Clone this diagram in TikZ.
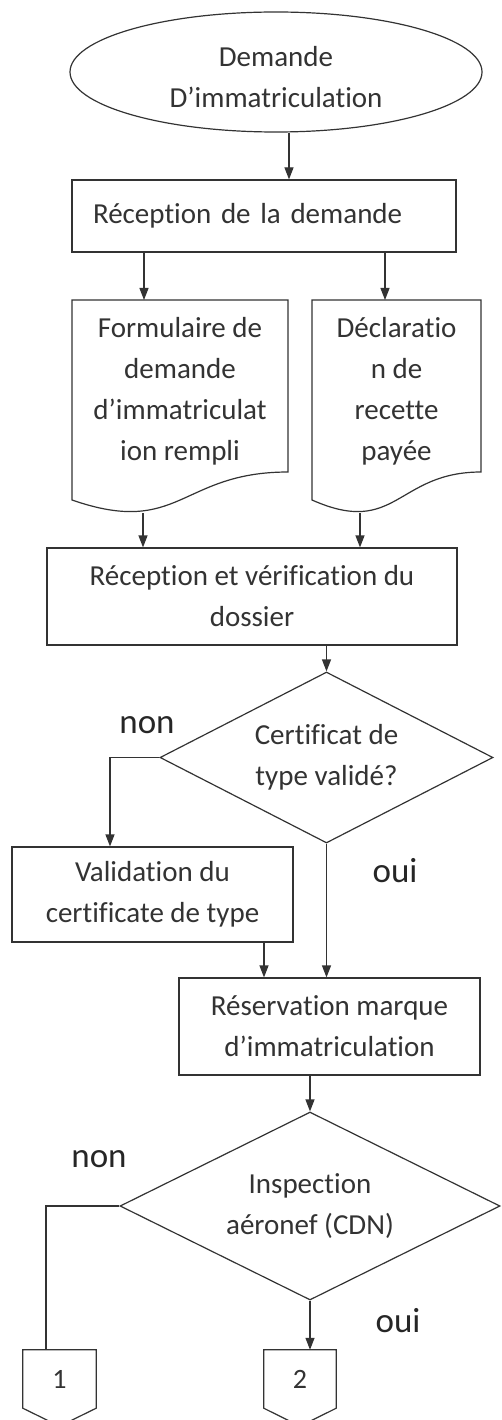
\documentclass[tikz,border=0pt]{standalone}
\usepackage{fontspec}
\setmainfont{Carlito}[Ligatures=NoCommon]
\usetikzlibrary{shapes.geometric,arrows.meta,calc}
\begin{document}
\begin{tikzpicture}[x=1pt,y=-1pt,
  line/.style={draw=black!80,line width=1.2pt},
  arr/.style={line,-{Triangle[length=12pt,width=9pt]}},
  txt/.style={font=\fontsize{29}{41}\selectfont,text=black!80,align=center},
  boxnode/.style={line,txt,rectangle,inner sep=0pt},
  lbl/.style={font=\fontsize{35}{40}\selectfont,text=black!85,anchor=base},
  dec/.style={line,diamond,txt,inner sep=0pt},
  num/.style={font=\fontsize{28}{32}\selectfont,text=black!80,inner sep=0pt}
]
\clip (0,0) rectangle (501,1420);
\fill[white] (0,0) rectangle (501,1420);

% start
\node[line,ellipse,minimum width=412pt,minimum height=120pt,inner sep=0pt,
  label={[txt,yshift=-5pt]center:Demande\\D’immatriculation}] (start) at (276,72) {};

% reception
\node[boxnode,minimum width=384pt,minimum height=72pt,text width=342pt,align=left] (b1) at (264,216) {Réception de la demande};

% documents
\draw[line] (72,300) -- (288,300) -- (288,472) .. controls (180,472) and (180,537.5) .. (72,500) -- cycle;
\draw[line] (312,300) -- (481,300) -- (481,472) .. controls (396.5,472) and (396.5,537.5) .. (312,500) -- cycle;
\node[txt] (d1) at (180,391.5) {Formulaire de\\demande\\d’immatriculat\\ion rempli};
\node[txt] (d2) at (396.5,391.5) {Déclaratio\\n de\\recette\\payée};
\coordinate (d1n) at (144,300);
\coordinate (d2n) at (385,300);
\coordinate (d1s) at (143,513);
\coordinate (d2s) at (360,513);

% verification
\node[boxnode,minimum width=410pt,minimum height=97pt] (b2) at (252,596.5) {Réception et vérification du\\dossier};

% decision 1
\node[dec,shape aspect=1.95,minimum width=333pt,minimum height=171pt] (q1) at (326.5,757.5) {Certificat de\\type validé?};

% validation
\node[boxnode,minimum width=281pt,minimum height=95pt] (b3) at (152.5,894.5) {Validation du\\certificate de type};

% reservation
\node[boxnode,minimum width=301pt,minimum height=97pt] (b4) at (329.5,1026.5) {Réservation marque\\d’immatriculation};

% decision 2
\node[dec,shape aspect=2,minimum width=380pt,minimum height=188pt] (q2) at (310,1206) {Inspection\\aéronef (CDN)};

% off-page connectors
\node[num,minimum width=73pt,minimum height=58pt] (c1) at (59.5,1379) {1};
\node[num,minimum width=72pt,minimum height=58pt] (c2) at (300,1379) {2};
\draw[line] (c1.north west) -- (c1.north east) -- (c1.south east) -- ($(c1.south)+(0,18)$) -- (c1.south west) -- cycle;
\draw[line] (c2.north west) -- (c2.north east) -- (c2.south east) -- ($(c2.south)+(0,18)$) -- (c2.south west) -- cycle;

% labels
\node[lbl] (non1) at (147,733) {non};
\node[lbl] (oui1) at (395,882) {oui};
\node[lbl] (non2) at (99,1167) {non};
\node[lbl] (oui2) at (398,1332) {oui};

% connectors
\draw[arr] (start.south -| b1.north) ++(25,0) coordinate (s0) -- (s0 |- b1.north);
\draw[arr] (b1.south -| d1n) -- (d1n);
\draw[arr] (b1.south -| d2n) -- (d2n);
\draw[arr] (d1s) -- (d1s |- b2.north);
\draw[arr] (d2s) -- (d2s |- b2.north);
\draw[arr] (b2.south -| q1.north) -- (q1.north);
\draw[arr] (q1.west) -| ([xshift=-42.5pt]b3.north);
\draw[arr] (q1.south) -- (q1.south |- b4.north);
\draw[arr] ([xshift=111.5pt]b3.south) -- ([xshift=111.5pt]b3.south |- b4.north);
\draw[arr] (q2.north |- b4.south) -- (q2.north);
\draw[line] (q2.west) -| ([xshift=-13.5pt]c1.north);
\draw[arr] (q2.south) -- (q2.south |- c2.north);
\end{tikzpicture}
\end{document}
